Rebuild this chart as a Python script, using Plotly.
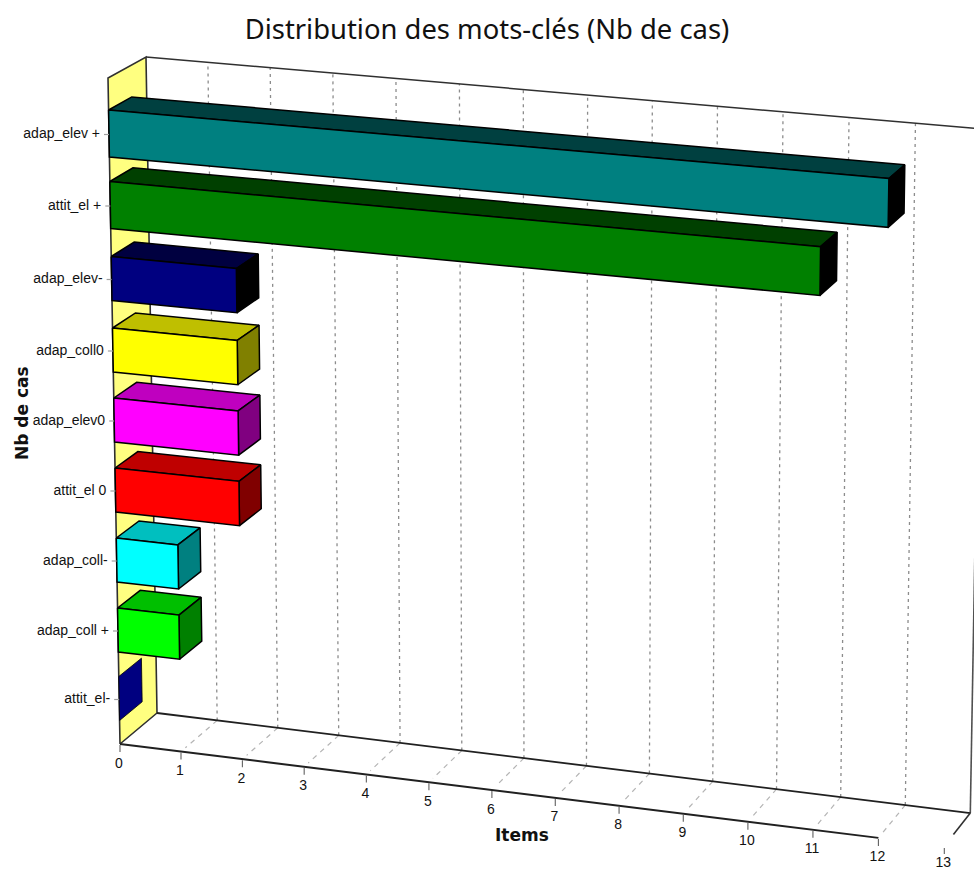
import plotly.graph_objects as go

categories = ["adap_elev +", "attit_el +", "adap_elev-", "adap_coll0", "adap_elev0",
              "attit_el 0", "adap_coll-", "adap_coll +", "attit_el-"]
values = [12, 11, 2, 2, 2, 2, 1, 1, 0]
front_colors = ["#008080", "#008000", "#000080", "#FFFF00", "#FF00FF", "#FF0000", "#00FFFF", "#00FF00", "#000080"]
top_colors = ["#004040", "#004000", "#000040", "#BFBF00", "#BF00BF", "#BF0000", "#00BFBF", "#00BF00", "#000080"]
side_colors = ["#000000", "#000000", "#000000", "#808000", "#800080", "#800000", "#008080", "#008000", "#000080"]
x_ticks = list(range(14))
title_text = "Distribution des mots-clés (Nb de cas)"
x_title = "Items"
y_title = "Nb de cas"

# Oblique projection of the chart box onto the page
XMAX = 13
FB0, FB1 = (120, 744), (944, 846)   # floor, front edge
BB0, BB1 = (157, 713), (970, 813)   # floor, back edge
FT0, FT1 = (108, 78), (957, 151)    # top, front edge
BT0, BT1 = (146, 57), (982, 129)    # top, back edge
DEPTH = 0.61
# height of each category band on the wall (0 floor, 1 top) and half thickness of its bar
band_centers = [(744 - c) / 666 for c in (133.5, 205, 278.5, 350, 420, 490, 560, 630, 698.5)]
band_halves = [23.5 / 666] * 2 + [22 / 666] * 7


def lerp(a, b, t):
    return (a[0] + (b[0] - a[0]) * t, a[1] + (b[1] - a[1]) * t)


def proj(x, v, d):
    f = x * 60 / (1 - 0.00315 * x) / 813
    bottom = lerp(lerp(FB0, FB1, f), lerp(BB0, BB1, f), d)
    top = lerp(lerp(FT0, FT1, f), lerp(BT0, BT1, f), d)
    return lerp(bottom, top, v)


fig = go.Figure()


def poly(points, fill, line="#000000", width=1.5):
    fig.add_trace(go.Scatter(x=[p[0] for p in points] + [points[0][0]],
                             y=[p[1] for p in points] + [points[0][1]],
                             mode="lines", fill="toself", fillcolor=fill,
                             line=dict(color=line, width=width), hoverinfo="skip"))


def seg(a, b, color="#000000", width=1.6, dash="solid"):
    fig.add_trace(go.Scatter(x=[a[0], b[0]], y=[a[1], b[1]], mode="lines",
                             line=dict(color=color, width=width, dash=dash), hoverinfo="skip"))


# left wall
poly([proj(0, 0, 0), proj(0, 1, 0), proj(0, 1, 1), proj(0, 0, 1)], "#FFFF80", line="#303030", width=1.6)

# grid on back wall and floor
for t in x_ticks[1:-1]:
    seg(proj(t, 0, 1), proj(t, 1, 1), "#8c8c8c", 1.3, "3px,4px")
    seg(proj(t, 0, 1), proj(t, 0, 0.12), "#b4b4b4", 1.2, "5px,5px")

# box edges
seg(proj(0, 1, 1), proj(XMAX, 1, 1), "#303030", 1.5)
seg(proj(XMAX, 0, 1), proj(XMAX, 1, 1), "#505050", 1.6)
seg(proj(0, 0, 1), proj(XMAX, 0, 1), "#202020", 1.8)
seg(proj(0, 0, 0), proj(12, 0, 0), "#202020", 2)
seg(proj(XMAX, 0, 1), proj(XMAX, 0, 0.35), "#303030", 1.6)

# bars
for val, fc, tc, sc, c, h in zip(values, front_colors, top_colors, side_colors, band_centers, band_halves):
    hi, lo = c + h, c - h
    if val > 0:
        poly([proj(0, hi, 0), proj(0, hi, DEPTH), proj(val, hi, DEPTH), proj(val, hi, 0)], tc)
        poly([proj(val, hi, 0), proj(val, hi, DEPTH), proj(val, lo, DEPTH), proj(val, lo, 0)], sc)
        poly([proj(0, hi, 0), proj(val, hi, 0), proj(val, lo, 0), proj(0, lo, 0)], fc)
    else:
        poly([proj(0, hi, 0), proj(0, hi, DEPTH), proj(0, lo, DEPTH), proj(0, lo, 0)], sc, width=0.8)

# category ticks and labels
lab_x, lab_y = [], []
for c in band_centers:
    p = proj(0, c, 0)
    seg((p[0] - 5, p[1] + 1), (p[0], p[1] + 1), "#a0a0a0", 1.2)
    lab_x.append(p[0] - 9)
    lab_y.append(p[1] + 1)
fig.add_trace(go.Scatter(x=lab_x, y=lab_y, mode="text", text=categories, textposition="middle left",
                         textfont=dict(family="Liberation Sans", size=14, color="#111111"), hoverinfo="skip"))

# value ticks and labels
tx, ty = [], []
for t in x_ticks:
    p = proj(t, 0, 0)
    seg((p[0], p[1] + (1 if t < XMAX else 2)), (p[0], p[1] + 8), "#606060", 1.1)
    tx.append(p[0] - 1)
    ty.append(p[1] + (20 if t < XMAX else 17))
fig.add_trace(go.Scatter(x=tx, y=ty, mode="text", text=[str(t) for t in x_ticks], textposition="middle center",
                         textfont=dict(family="Liberation Sans", size=14, color="#111111"), hoverinfo="skip"))

fig.update_layout(
    width=974, height=871, margin=dict(l=0, r=0, t=0, b=0), showlegend=False,
    paper_bgcolor="#ffffff", plot_bgcolor="#ffffff",
    xaxis=dict(range=[0, 974], visible=False, fixedrange=True),
    yaxis=dict(range=[871, 0], visible=False, fixedrange=True),
    title=dict(text=title_text, x=0.5, xanchor="center", y=1 - 29 / 871, yanchor="middle",
               font=dict(family="Noto Sans", size=27.4, color="#111111")),
    annotations=[
        dict(text=f"<b>{x_title}</b>", x=522, y=835, xref="x", yref="y", showarrow=False,
             font=dict(family="DejaVu Sans", size=17, color="#111111")),
        dict(text=f"<b>{y_title}</b>", x=22, y=413, xref="x", yref="y", showarrow=False, textangle=-90,
             font=dict(family="DejaVu Sans", size=17, color="#111111")),
    ],
)
fig.write_html("out.html", config={"displayModeBar": False},
               post_script="document.body.style.margin='0';document.body.style.overflow='hidden';")
